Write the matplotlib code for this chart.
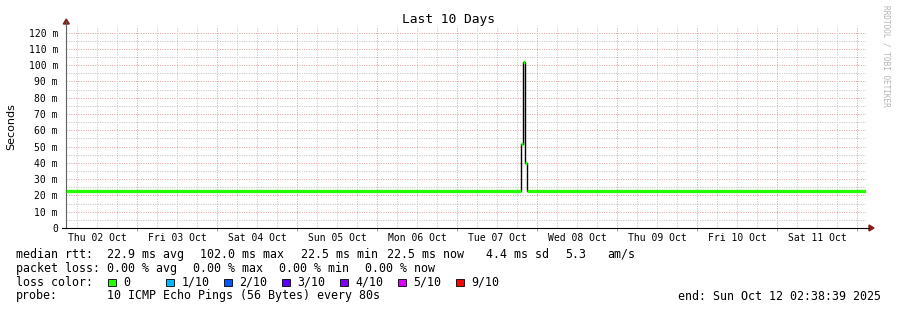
import matplotlib
matplotlib.use("Agg")
import matplotlib.pyplot as plt
from matplotlib.patches import Polygon, Rectangle
import numpy as np

W, H = 897, 310
MONO = "DejaVu Sans Mono"

# ---- data ----
# hours since graph start (Thu 02 Oct 02:38:39)
times = [0.0, 136.55, 136.9, 137.75, 138.2, 240.0]
median_ms = [22.6, 51.3, 102.0, 40.0, 22.6, 22.6]
day_labels = ["Thu 02 Oct", "Fri 03 Oct", "Sat 04 Oct", "Sun 05 Oct", "Mon 06 Oct",
              "Tue 07 Oct", "Wed 08 Oct", "Thu 09 Oct", "Fri 10 Oct", "Sat 11 Oct"]
first_midnight = 21.3558  # hours from start to Fri 03 Oct 00:00
y_ticks = [0, 10, 20, 30, 40, 50, 60, 70, 80, 90, 100, 110, 120]
y_tick_labels = ["0"] + [f"{v} m" for v in y_ticks[1:]]
loss_labels = ["0", "1/10", "2/10", "3/10", "4/10", "5/10", "9/10"]
loss_colors = ["#26ff00", "#00b8ff", "#0059ff", "#5e00ff", "#7e00ff", "#dd00ff", "#ff0000"]

fig = plt.figure(figsize=(W / 100, H / 100), dpi=100)
fig.patch.set_facecolor("white")

def fx(px):
    return px / W

def fy(py):
    return 1 - py / H

ax_left, ax_right, ax_top, ax_bottom = 66.3, 866.3, 26.0, 228.0
ax = fig.add_axes([fx(ax_left), fy(ax_bottom), (ax_right - ax_left) / W, (ax_bottom - ax_top) / H])
ax.set_xlim(0, 240)
ax.set_ylim(0, 124)
ax.set_facecolor("white")

# grid
minor_col = "#c4c4c4"
major_col = "#e49c9c"
ls = (0, (1, 1.4))
lw = 0.72
for v in np.arange(5, 124, 5):
    ax.axhline(v, color=major_col if v % 10 == 0 else minor_col, lw=lw, ls=ls, zorder=1)
mids = [first_midnight + 24 * k for k in range(10)]
for k in range(-1, 11):
    for q in range(4):
        h = first_midnight + 24 * k + 6 * q
        if 0 < h < 240:
            ax.axvline(h, color=major_col if q == 0 else minor_col, lw=lw, ls=ls, zorder=1)

# data: thin black step + thick loss-colored horizontal segments
ax.step(times, median_ms, where="post", color="#000000", lw=1.0, zorder=3)
for i in range(len(times) - 1):
    ax.hlines(median_ms[i], times[i], times[i + 1], color=loss_colors[0], lw=2.4, zorder=4)

# axes styling
for s in ["top", "right"]:
    ax.spines[s].set_visible(False)
ax.spines["left"].set_color("#606060")
ax.spines["bottom"].set_color("#000000")
ax.spines["left"].set_linewidth(0.8)
ax.spines["bottom"].set_linewidth(0.8)
ax.set_yticks(y_ticks)
ax.set_yticklabels(y_tick_labels, fontfamily=MONO, fontsize=7)
ax.tick_params(axis="y", length=0, pad=6)
ax.set_xticks(mids)
ax.set_xticklabels([])
ax.tick_params(axis="x", length=2.5, color="#e08080", width=0.7, direction="out")

# day labels at noon
for k, lab in enumerate(day_labels):
    noon = first_midnight - 12 + 24 * k
    ax.text(noon, -5.9, lab, ha="center", va="center", fontfamily=MONO, fontsize=7,
            transform=ax.transData, clip_on=False)

# axis extensions and arrows
fig.add_artist(plt.Line2D([fx(62), fx(ax_left)], [fy(228), fy(228)], color="#000000", lw=0.8))
fig.add_artist(plt.Line2D([fx(ax_right), fx(869)], [fy(228), fy(228)], color="#000000", lw=0.8))
fig.add_artist(plt.Line2D([fx(ax_left), fx(ax_left)], [fy(ax_top), fy(21)], color="#606060", lw=0.8))
arrow_col = "#8b1a1a"
fig.add_artist(Polygon([[fx(ax_left - 3), fy(24)], [fx(ax_left + 3), fy(24)], [fx(ax_left), fy(19)]],
                       closed=True, color=arrow_col, transform=fig.transFigure))
fig.add_artist(Polygon([[fx(869), fy(225)], [fx(869), fy(231)], [fx(874), fy(228)]],
                       closed=True, color=arrow_col, transform=fig.transFigure))

# title, y label, watermark
fig.text(fx(448), fy(19.5), "Last 10 Days", ha="center", va="center", fontfamily=MONO, fontsize=9.3)
fig.text(fx(11), fy(127), "Seconds", ha="center", va="center", rotation=90,
         fontfamily="DejaVu Sans", fontsize=8)
fig.text(fx(886), fy(5), "RRDTOOL / TOBI OETIKER", ha="center", va="top", rotation=270,
         fontfamily=MONO, fontsize=5.6, color="#b4b4b4")

# legend rows
fs = 8.35
def t(px, py, s, **kw):
    fig.text(fx(px), fy(py), s, ha=kw.pop("ha", "left"), va="center", fontfamily=MONO, fontsize=fs, **kw)

r1, r2, r3, r4 = 254.3, 268.3, 282.3, 296.0
t(16, r1, "median rtt:")
t(107.3, r1, "22.9 ms avg")
t(200.3, r1, "102.0 ms max")
t(300.7, r1, "22.5 ms min")
t(386.7, r1, "22.5 ms now")
t(485.7, r1, "4.4 ms sd")
t(565, r1, "5.3")
t(607.3, r1, "am/s")

t(16, r2, "packet loss:")
t(107.3, r2, "0.00 % avg")
t(193.3, r2, "0.00 % max")
t(279.3, r2, "0.00 % min")
t(365.3, r2, "0.00 % now")

t(16, r3, "loss color:")
box_x = 108.3
for i, (lab, col) in enumerate(zip(loss_labels, loss_colors)):
    bx = box_x + 58 * i
    fig.add_artist(Rectangle((fx(bx), fy(r3 + 4)), 7.5 / W, 7.5 / H, facecolor=col,
                             edgecolor="#000000", lw=0.6, transform=fig.transFigure))
    t(bx + 15, r3, lab)

t(16, r4, "probe:")
t(107.3, r4, "10 ICMP Echo Pings (56 Bytes) every 80s")
t(880.7, r4, "end: Sun Oct 12 02:38:39 2025", ha="right")

fig.savefig("out.png", dpi=100, facecolor="white")
